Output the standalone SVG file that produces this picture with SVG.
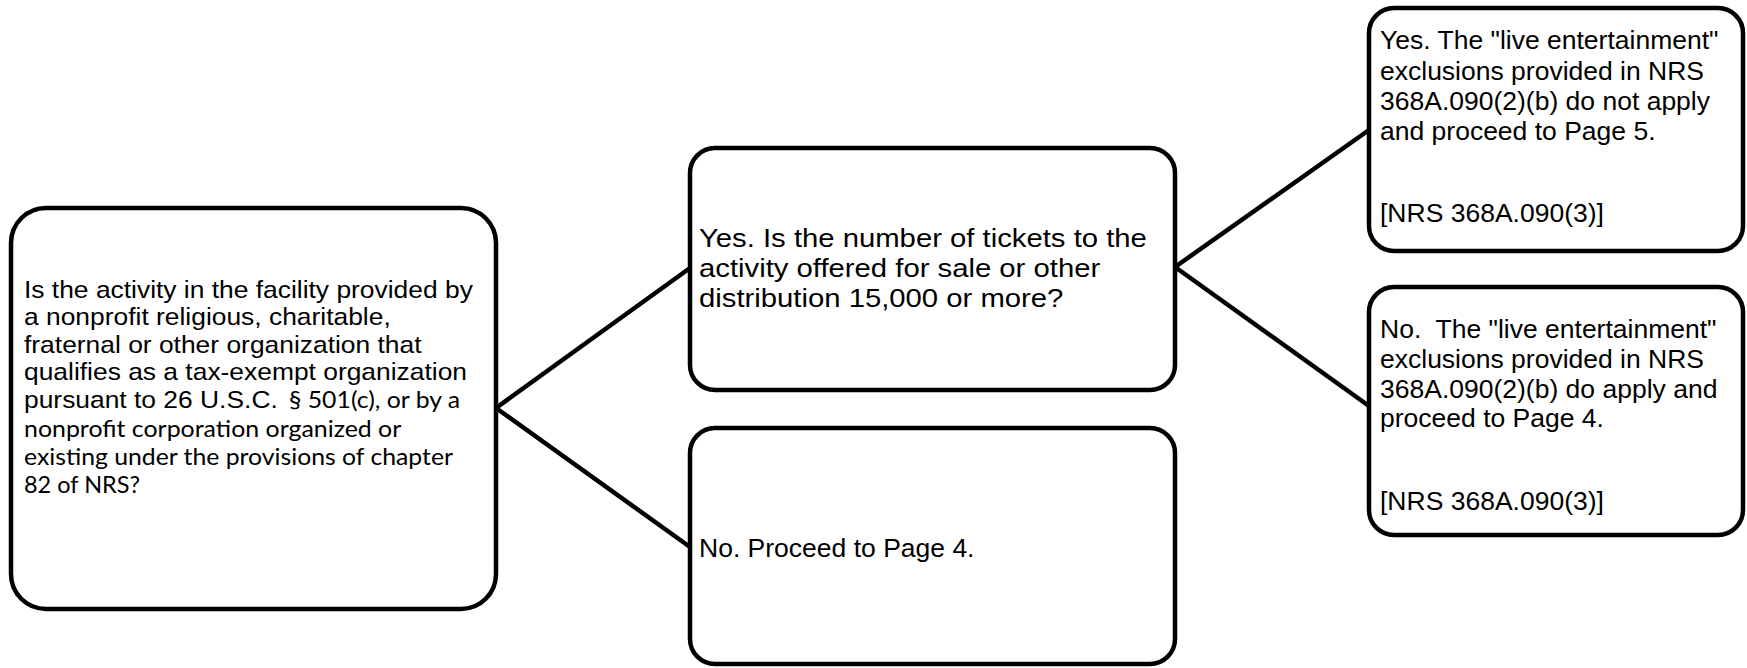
<svg xmlns="http://www.w3.org/2000/svg" width="1747" height="668" viewBox="0 0 1747 668">
<style>
.box{fill:#fff;stroke:#000;stroke-width:4.5}
.conn{stroke:#000;stroke-width:4.5;fill:none;stroke-linecap:round}
.a{font-family:"Liberation Sans",Arial,sans-serif;fill:#000}
.c{font-family:Lato,"Open Sans",sans-serif;fill:#000}
.s24{font-size:24px}
.s26{font-size:26.5px}
.c22{font-size:22.5px}
</style>
<rect width="1747" height="668" fill="#fff"/>
<g id="connectors">
<line class="conn" x1="496" y1="408" x2="690" y2="268"/>
<line class="conn" x1="496" y1="408" x2="690" y2="547"/>
<line class="conn" x1="1175" y1="267" x2="1369" y2="130"/>
<line class="conn" x1="1175" y1="267" x2="1369" y2="406"/>
</g>
<g id="node-question1">
<rect class="box" x="11" y="208" width="485" height="401" rx="35" ry="35"/>
<g transform="translate(24,0) scale(1.1,1)">
<text class="a s24" x="0" y="298">Is the activity in the facility provided by</text>
<text class="a s24" x="0" y="325">a nonprofit religious, charitable,</text>
<text class="a s24" x="0" y="353">fraternal or other organization that</text>
<text class="a s24" x="0" y="380">qualifies as a tax-exempt organization</text>
<text class="a s24" x="0" y="408">pursuant to 26 U.S.C.</text>
<text class="c c22" x="241" y="408" textLength="155.5" lengthAdjust="spacingAndGlyphs">§ 501(c), or by a</text>
<text class="c c22" x="0" y="437" textLength="343" lengthAdjust="spacingAndGlyphs">nonprofit corporation organized or</text>
<text class="c c22" x="0" y="465" textLength="390" lengthAdjust="spacingAndGlyphs">existing under the provisions of chapter</text>
<text class="c c22" x="0" y="493" textLength="105.5" lengthAdjust="spacingAndGlyphs">82 of NRS?</text>
</g>
</g>
<g id="node-yes-tickets">
<rect class="box" x="690" y="148" width="485" height="242" rx="25" ry="25"/>
<g transform="translate(699,0) scale(1.105,1)">
<text class="a s26" x="0" y="247">Yes. Is the number of tickets to the</text>
<text class="a s26" x="0" y="277">activity offered for sale or other</text>
<text class="a s26" x="0" y="307">distribution 15,000 or more?</text>
</g>
</g>
<g id="node-no-page4">
<rect class="box" x="690" y="428" width="485" height="236" rx="25" ry="25"/>
<text class="a s26" x="699" y="557">No. Proceed to Page 4.</text>
</g>
<g id="node-yes-page5">
<rect class="box" x="1369" y="8" width="374" height="243" rx="25" ry="25"/>
<text class="a s26" x="1380" y="49">Yes. The "live entertainment"</text>
<text class="a s26" x="1380" y="80">exclusions provided in NRS</text>
<text class="a s26" x="1380" y="110">368A.090(2)(b) do not apply</text>
<text class="a s26" x="1380" y="140">and proceed to Page 5.</text>
<text class="a s26" x="1380" y="222">[NRS 368A.090(3)]</text>
</g>
<g id="node-no-apply">
<rect class="box" x="1369" y="287" width="374" height="248" rx="25" ry="25"/>
<text class="a s26" x="1380" y="338" xml:space="preserve">No.  The "live entertainment"</text>
<text class="a s26" x="1380" y="368">exclusions provided in NRS</text>
<text class="a s26" x="1380" y="398">368A.090(2)(b) do apply and</text>
<text class="a s26" x="1380" y="427">proceed to Page 4.</text>
<text class="a s26" x="1380" y="510">[NRS 368A.090(3)]</text>
</g>
</svg>
